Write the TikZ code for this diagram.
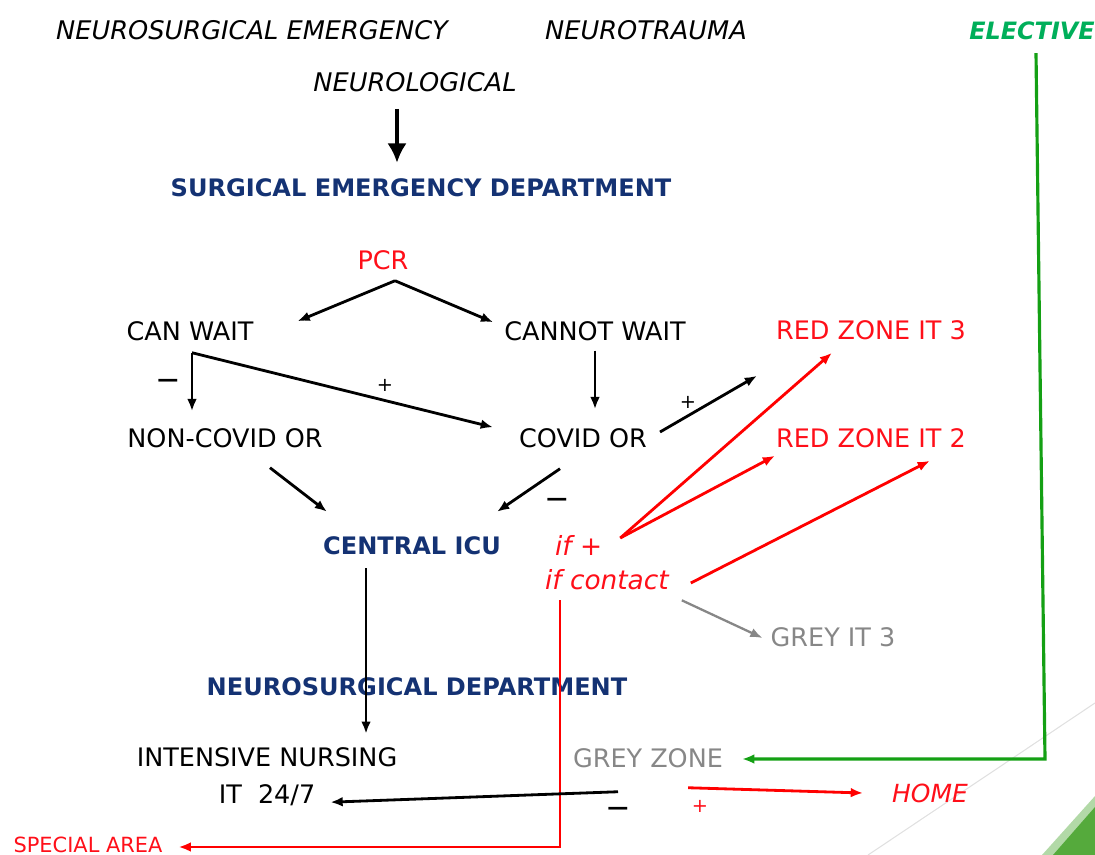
\documentclass[tikz,border=0pt]{standalone}
\usepackage{fontspec}
\setmainfont{DejaVu Sans}
\usepackage{xcolor}
\usetikzlibrary{arrows.meta}

\definecolor{deptblue}{RGB}{20,50,115}
\definecolor{zonered}{RGB}{255,15,25}
\definecolor{greytext}{RGB}{135,135,135}
\definecolor{electgreen}{RGB}{0,175,90}
\definecolor{linegreen}{RGB}{20,160,20}
\definecolor{slidegreen}{RGB}{85,170,60}

\begin{document}
\begin{tikzpicture}[x=0.02cm,y=-0.02cm,>={Latex[length=7pt,width=5.5pt]},every node/.style={inner sep=1pt},
  plain lbl/.style={font=\fontsize{14.5}{21}\selectfont},
  top lbl/.style={font=\fontsize{14.6}{18}\selectfont\itshape},
  dept lbl/.style={font=\fontsize{13.7}{18}\selectfont\bfseries,text=deptblue},
  zone lbl/.style={plain lbl,text=zonered},
  grey lbl/.style={plain lbl,text=greytext},
  if lbl/.style={font=\fontsize{15}{18}\selectfont\itshape,text=zonered},
  sign/.style={font=\fontsize{12}{14}\selectfont\bfseries}]
\tikzstyle{flow} = [->,line width=1.6pt]
\tikzstyle{red flow} = [flow,draw=red]

\useasboundingbox (0,0) rectangle (1095,855);

% Slide decoration
\draw[line width=0.6pt,draw=black!12] (868,855) -- (1095,703);
\fill[slidegreen!45] (1042,855) -- (1095,796) -- (1095,855) -- cycle;
\fill[slidegreen] (1053,855) -- (1095,807) -- (1095,855) -- cycle;

% Sources
\node[top lbl] (neuroem) at (252,30) {NEUROSURGICAL EMERGENCY};
\node[top lbl] (neurotrauma) at (646,30) {NEUROTRAUMA};
\node[top lbl,font=\fontsize{13.6}{18}\selectfont\bfseries\itshape,text=electgreen] (elective) at (1032,31) {ELECTIVE};
\node[top lbl] (neurological) at (415,82) {NEUROLOGICAL};

% Triage
\node[dept lbl] (sed) at (421,188) {SURGICAL EMERGENCY DEPARTMENT};
\node[zone lbl] (pcr) at (383,260) {PCR};
\node[plain lbl] (canwait) at (190,331) {CAN WAIT};
\node[plain lbl] (cannotwait) at (595,331) {CANNOT WAIT};
\node[plain lbl] (noncovid) at (225,438) {NON-COVID OR};
\node[plain lbl] (covid) at (583,438) {COVID OR};
\node[zone lbl] (redzone3) at (871,330) {RED ZONE IT 3};
\node[zone lbl] (redzone2) at (871,438) {RED ZONE IT 2};
\node[dept lbl] (icu) at (412,546) {CENTRAL ICU};
\node[if lbl,anchor=west] (ifpos) at (553,545) {if +};
\node[if lbl,anchor=west] (ifcontact) at (543,580) {if contact};
\node[grey lbl] (greyit3) at (833,637) {GREY IT 3};

% Ward
\node[dept lbl] (neurodept) at (417,687) {NEUROSURGICAL DEPARTMENT};
\node[plain lbl,align=center] (nursing) at (267,777) {INTENSIVE NURSING\\IT\ \ 24/7};
\node[grey lbl] (greyzone) at (648,758) {GREY ZONE};
\node[zone lbl,font=\fontsize{14.2}{17}\selectfont\itshape] (home) at (930,793) {HOME};
\node[zone lbl,font=\fontsize{11.9}{14}\selectfont] (special) at (88,845) {SPECIAL AREA};

% Signs
\node[sign] (minus1) at (168,383) {\textemdash};
\node[sign,font=\fontsize{11}{13}\selectfont] (plus1) at (385,385) {+};
\node[sign,font=\fontsize{11}{13}\selectfont] (plus2) at (688,402) {+};
\node[sign] (minus2) at (557,502) {\textemdash};
\node[sign] (minus3) at (618,811) {\textemdash};
\node[sign,font=\fontsize{11}{13}\selectfont,text=zonered] (plus3) at (700,806) {+};

\coordinate (neurodrop) at ([xshift=-0.36cm]neurological.south);
\coordinate (pcrsplit) at ([xshift=0.24cm,yshift=-0.18cm]pcr.south);
\coordinate (waitsplit) at ([xshift=0.04cm,yshift=-0.2cm]canwait.south);
\coordinate (icudrop) at ([xshift=-0.92cm]icu.south);
\coordinate (electivebend) at (1045,759);

% Draw arrows
\draw[-{Latex[length=11pt,width=11pt]},line width=2.8pt,shorten <=0.3cm,shorten >=0.28cm] (neurodrop) -- (neurodrop |- sed.north);
\draw[flow] (pcrsplit) -- ([xshift=0.84cm,yshift=-0.04cm]canwait.north east);
\draw[flow] (pcrsplit) -- ([xshift=-0.18cm,yshift=-0.06cm]cannotwait.north west);
\draw[flow,shorten >=0.3cm] (waitsplit) -- (waitsplit |- noncovid.north);
\draw[flow] (waitsplit) -- ([xshift=-0.48cm,yshift=-0.02cm]covid.north west);
\draw[flow,shorten <=0.16cm,shorten >=0.34cm] (cannotwait.south) -- (cannotwait.south |- covid.north);
\draw[flow] ([xshift=0.22cm,yshift=0.12cm]covid.east) -- ([xshift=-0.34cm,yshift=-0.68cm]redzone3.south west);
\draw[flow] ([xshift=0.9cm,yshift=-0.36cm]noncovid.south) -- ([xshift=0.12cm,yshift=0.46cm]icu.north west);
\draw[flow] ([xshift=-0.46cm,yshift=-0.38cm]covid.south) -- ([xshift=-0.12cm,yshift=0.46cm]icu.north east);
\draw[flow,shorten <=0.22cm,shorten >=0.24cm] (icudrop) -- (icudrop |- nursing.north);

% Red zones
\draw[red flow] ([xshift=0.32cm,yshift=0.14cm]ifpos.east) -- ([xshift=-0.78cm,yshift=-0.22cm]redzone3.south);
\draw[red flow] ([xshift=0.32cm,yshift=0.14cm]ifpos.east) -- ([xshift=0.02cm,yshift=-0.12cm]redzone2.south west);
\draw[red flow] ([xshift=0.4cm,yshift=-0.06cm]ifcontact.east) -- ([xshift=-0.76cm,yshift=-0.22cm]redzone2.south east);
\draw[flow,draw=greytext,line width=1.3pt] ([xshift=0.22cm,yshift=-0.16cm]ifcontact.south east) -- ([xshift=-0.12cm,yshift=-0.02cm]greyit3.west);
\draw[red flow] ([xshift=0.34cm,yshift=-0.16cm]ifcontact.south west) |- ([xshift=0.28cm,yshift=-0.04cm]special.east);

% Grey zone
\draw[flow] ([xshift=-0.6cm,yshift=-0.44cm]greyzone.south) -- ([xshift=-1.38cm,yshift=0.12cm]nursing.south east);
\draw[red flow] ([xshift=-0.74cm,yshift=-0.36cm]greyzone.south east) -- ([xshift=-0.54cm]home.west);
\draw[flow,draw=linegreen,line width=1.8pt] ([xshift=0.08cm,yshift=-0.22cm]elective.south) -- (electivebend) -- ([xshift=0.34cm,yshift=-0.02cm]greyzone.east);

\end{tikzpicture}
\end{document}
